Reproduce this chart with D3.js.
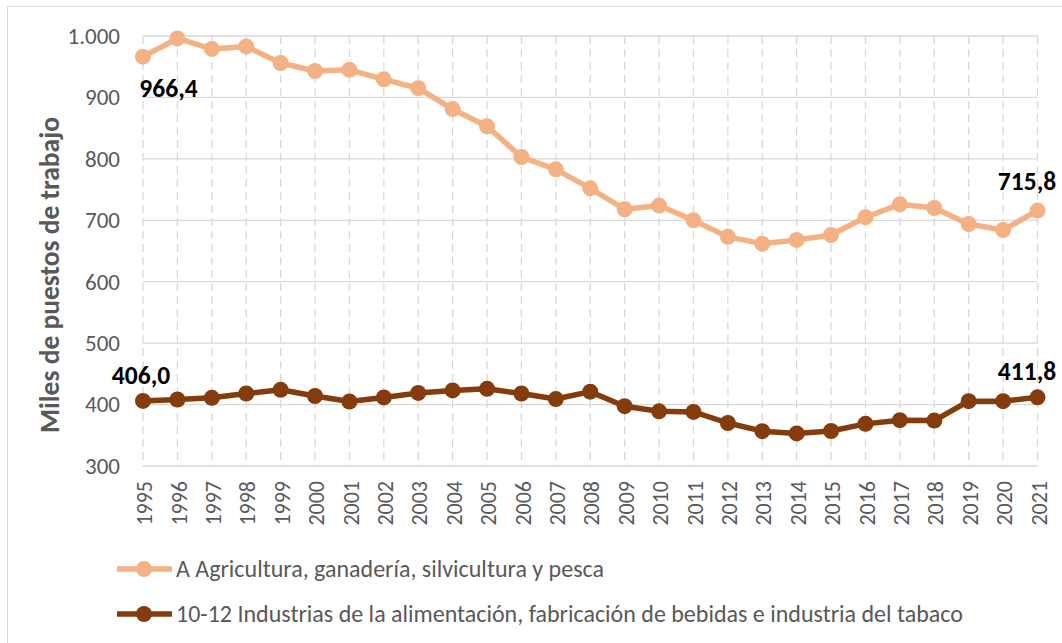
<!DOCTYPE html>
<html>
<head>
<meta charset="utf-8">
<script src="https://cdn.jsdelivr.net/npm/d3@7"></script>
<style>
  body { margin: 0; background: #fff; }
  svg { display: block; font-family: Carlito, Lato, "Open Sans", sans-serif; }
</style>
</head>
<body>
<div id="chart"><svg></svg></div>
<script>
var years = d3.range(1995, 2022);
var agricultura = [966.4, 996, 979, 983, 956, 943, 945, 929.5, 915, 881, 853, 803, 783, 752, 718, 724, 700, 673, 662, 668, 676, 705, 726, 720, 694, 684, 715.8];
var alimentacion = [406.0, 408.3, 411, 418, 424, 414, 405, 411.6, 419, 423, 425.6, 418, 409, 421, 397.4, 389, 388, 370, 356.7, 353, 357, 368.6, 374.6, 374, 405.5, 405.5, 411.8];
var seriesNames = ["A Agricultura, ganadería, silvicultura y pesca",
                   "10-12 Industrias de la alimentación, fabricación de bebidas e industria del tabaco"];
var seriesColors = ["#F4B183", "#843C0C"];
var yTicks = [300, 400, 500, 600, 700, 800, 900, 1000];

var width = 1062, height = 643;
var svg = d3.select("#chart svg").attr("width", width).attr("height", height);

// chart frame (right and bottom edges fall outside the picture)
svg.append("rect")
  .attr("x", 7.5).attr("y", 6.5)
  .attr("width", 1070).attr("height", 650)
  .attr("fill", "#fff").attr("stroke", "#d9d9d9");

var x = d3.scalePoint().domain(years).range([143, 1037.5]);
var y = d3.scaleLinear().domain([300, 1000]).range([466, 36]);

var fmt = function(v) { return v >= 1000 ? d3.format(",")(v).replace(",", ".") : String(v); };

// horizontal grid
svg.append("g").selectAll("line")
  .data(yTicks).enter().append("line")
  .attr("x1", x(1995)).attr("x2", x(2021))
  .attr("y1", function(d) { return y(d); }).attr("y2", function(d) { return y(d); })
  .attr("stroke", "#d9d9d9").attr("stroke-width", 1.3);

// vertical dashed grid
svg.append("g").selectAll("line")
  .data(years).enter().append("line")
  .attr("x1", function(d) { return x(d); }).attr("x2", function(d) { return x(d); })
  .attr("y1", y(1000)).attr("y2", y(300))
  .attr("stroke", "#d9d9d9").attr("stroke-width", 1.3)
  .attr("stroke-dasharray", "8,5");

// y axis labels
var yAxis = d3.axisLeft(y).tickValues(yTicks).tickSize(0).tickPadding(23).tickFormat(fmt);
var gy = svg.append("g").attr("transform", "translate(" + x(1995) + ",0)").call(yAxis);
gy.select(".domain").remove();
gy.selectAll("text").attr("fill", "#595959").style("font-size", "23px")
  .style("font-family", "Carlito, Lato, sans-serif");

// x axis labels, rotated
var xAxis = d3.axisBottom(x).tickSize(0).tickFormat(String);
var gx = svg.append("g").attr("transform", "translate(0," + y(300) + ")").call(xAxis);
gx.select(".domain").remove();
gx.selectAll("text")
  .attr("fill", "#595959").style("font-size", "22px")
  .style("font-family", "Carlito, Lato, sans-serif")
  .attr("transform", "rotate(-90)")
  .attr("text-anchor", "end")
  .attr("x", -15).attr("y", 1).attr("dy", "0.35em");

// y axis title
svg.append("text")
  .attr("transform", "translate(59,275) rotate(-90)")
  .attr("text-anchor", "middle")
  .attr("fill", "#595959")
  .style("font-size", "27.5px").style("font-weight", "bold")
  .text("Miles de puestos de trabajo");

var line = d3.line()
  .x(function(d, i) { return x(years[i]); })
  .y(function(d) { return y(d); });

[agricultura, alimentacion].forEach(function(data, k) {
  svg.append("path")
    .datum(data)
    .attr("d", line)
    .attr("fill", "none")
    .attr("stroke", seriesColors[k])
    .attr("stroke-width", 5.5)
    .attr("stroke-linejoin", "round");
  svg.append("g").selectAll("circle")
    .data(data).enter().append("circle")
    .attr("cx", function(d, i) { return x(years[i]); })
    .attr("cy", function(d) { return y(d); })
    .attr("r", 8)
    .attr("fill", seriesColors[k]);
});

// data labels
var labels = [
  { v: agricultura[0], yr: 1995, dx: 25.5, dy: 31.5 },
  { v: agricultura[26], yr: 2021, dx: -10.5, dy: -30 },
  { v: alimentacion[0], yr: 1995, dx: -2, dy: -26 },
  { v: alimentacion[26], yr: 2021, dx: -10.5, dy: -26 }
];
svg.append("g").selectAll("text")
  .data(labels).enter().append("text")
  .attr("x", function(d) { return x(d.yr) + d.dx; })
  .attr("y", function(d) { return y(d.v) + d.dy; })
  .attr("text-anchor", "middle")
  .attr("dy", "0.35em")
  .attr("fill", "#000")
  .style("font-size", "25.5px").style("font-weight", "bold")
  .text(function(d) { return d.v.toFixed(1).replace(".", ","); });

// legend
var legend = svg.append("g").selectAll("g")
  .data(seriesNames).enter().append("g")
  .attr("transform", function(d, i) { return "translate(117," + (569 + i * 45) + ")"; });
legend.append("line")
  .attr("x1", 0).attr("x2", 55)
  .attr("stroke", function(d, i) { return seriesColors[i]; })
  .attr("stroke-width", 5.5);
legend.append("circle")
  .attr("cx", 27).attr("r", 8)
  .attr("fill", function(d, i) { return seriesColors[i]; });
legend.append("text")
  .attr("x", 59).attr("dy", "0.35em")
  .attr("fill", "#595959")
  .style("font-size", "24px")
  .text(function(d) { return d; });
</script>
</body>
</html>
